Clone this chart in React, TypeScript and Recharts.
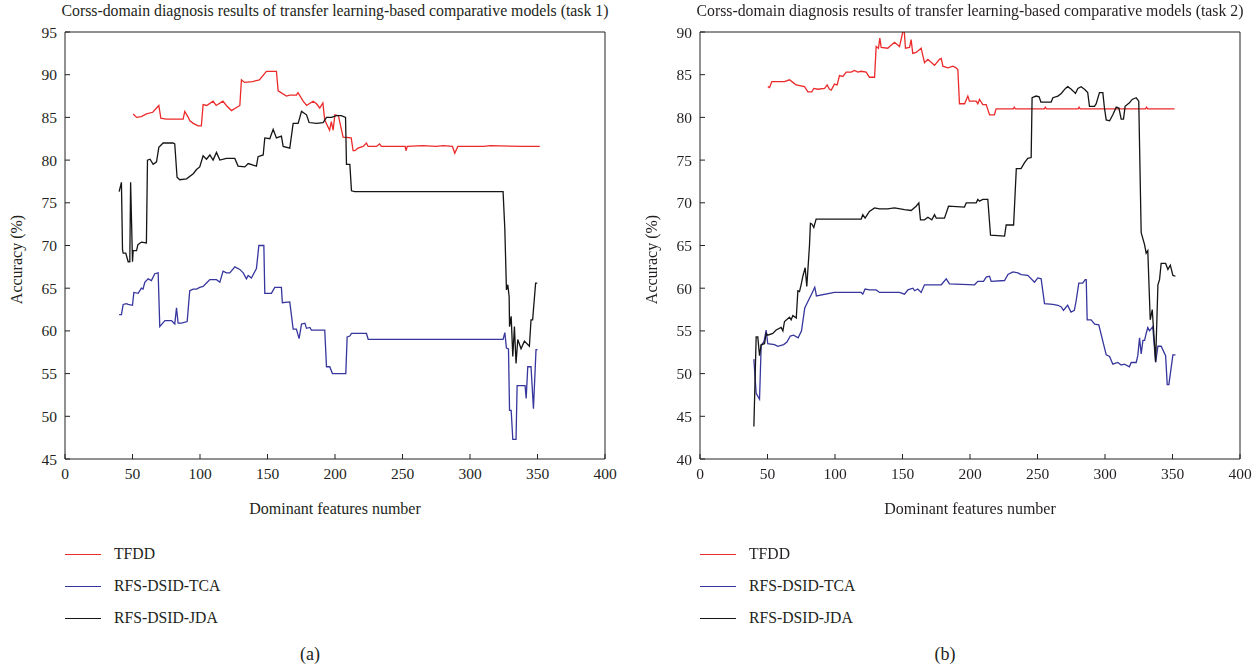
import React from "react";
import { LineChart, Line, XAxis, YAxis } from "recharts";

type Pt = [number, number];

const xTicks = [0, 50, 100, 150, 200, 250, 300, 350, 400];
const yTicksA = [45, 50, 55, 60, 65, 70, 75, 80, 85, 90, 95];
const yTicksB = [40, 45, 50, 55, 60, 65, 70, 75, 80, 85, 90];

const seriesNames = ["TFDD", "RFS-DSID-TCA", "RFS-DSID-JDA"];
const seriesColors = ["#ec2a2a", "#36369e", "#151515"];

// task 1
const tfddA: Pt[] = [
  [50.5, 85.4], [53, 85.0], [56.6, 85.1], [60.3, 85.4], [65, 85.6], [69.5, 86.4], [71, 84.9],
  [75, 84.8], [80, 84.8], [87.5, 84.8], [88.7, 85.7], [91, 85.1], [92.5, 84.6], [95, 84.3],
  [98.6, 84.0], [101, 84.0], [102.3, 86.5], [105, 86.4], [109.7, 86.9], [112, 86.4], [117, 86.9],
  [119.5, 86.4], [123.3, 85.8], [129.5, 86.4], [130.7, 89.4], [133, 89.1], [139, 89.2], [144, 89.4],
  [149.2, 90.4], [156.6, 90.4], [157.9, 88.1], [164, 87.5], [166.5, 87.6], [171.4, 87.6],
  [172.6, 87.9], [176.4, 86.9], [179, 86.4], [183.8, 86.9], [186.3, 86.6], [188.7, 86.1],
  [191, 86.7], [192.4, 84.7], [196, 83.5], [197.3, 84.5], [198.6, 83.5], [199.9, 85.3],
  [202.5, 85.2], [206, 82.7], [212, 82.6], [213.4, 81.1], [214.7, 81.1], [217, 81.4], [220.8, 81.6],
  [223.3, 82.0], [224.5, 81.6], [230.7, 81.6], [233, 81.9], [234.3, 81.6], [252, 81.6],
  [252.6, 81.1], [253.5, 81.6], [265, 81.7], [275, 81.6], [280, 81.7], [287, 81.6], [288.7, 80.8],
  [291, 81.6], [310, 81.6], [315, 81.7], [339.3, 81.6], [351.7, 81.6],
];
const tcaA: Pt[] = [
  [40.1, 61.9], [41.8, 61.9], [43.1, 63.1], [45.5, 63.2], [46.8, 63.1], [50, 63.0], [51, 64.5],
  [54.2, 64.4], [56.6, 65.0], [57.8, 64.9], [59.1, 65.7], [61.6, 66.1], [64, 65.9], [66.5, 66.7],
  [69, 66.8], [70.2, 60.5], [74, 61.2], [78.9, 61.2], [81.3, 60.8], [82.6, 62.7], [83.8, 60.9],
  [86.3, 60.9], [90.5, 61.1], [92.4, 64.7], [94.9, 64.9], [97.4, 64.9], [99.8, 65.1],
  [102.3, 65.2], [104.8, 65.6], [107.3, 66.0], [112.2, 66.0], [114.7, 65.7], [117.1, 67.0],
  [119.6, 66.8], [122.1, 66.8], [125.8, 67.5], [129.5, 67.2], [132, 66.8], [134.4, 66.1],
  [135.7, 66.5], [138.1, 66.2], [141.8, 67.3], [143.6, 70.0], [147.3, 70.0], [148, 64.4],
  [152.9, 64.4], [155.4, 65.1], [160.3, 65.1], [161, 63.3], [166.5, 63.4], [169, 60.2],
  [171.4, 60.2], [173.4, 59.1], [175.2, 60.8], [177.7, 60.9], [178.9, 60.3], [181.4, 60.4],
  [182.5, 60.1], [192.4, 60.1], [193.7, 55.8], [196.1, 55.8], [198.1, 55.0], [208, 55.0],
  [209, 59.3], [211, 59.4], [212.2, 59.7], [223.3, 59.7], [224.6, 59.0], [324.5, 59.0],
  [325.8, 59.8], [327, 58.0], [328.5, 57.9], [329.3, 50.7], [330.5, 50.7], [331.7, 47.3],
  [334.1, 47.3], [334.9, 53.6], [340.8, 53.6], [341.6, 52.1], [342.8, 55.8], [345.2, 55.8],
  [347, 50.9], [348.9, 57.8], [350, 57.8],
];
const jdaA: Pt[] = [
  [40.1, 76.3], [41.8, 77.4], [42.6, 69.5], [43.1, 69.1], [45, 69.1], [46.8, 68.1], [48, 68.1],
  [48.6, 77.4], [50, 68.1], [50.5, 69.4], [53, 69.4], [54, 70.1], [56.6, 70.4], [60.3, 70.3],
  [61.1, 80.0], [63, 80.1], [65.3, 79.5], [67.8, 79.8], [69.5, 81.5], [72.7, 82.0], [80, 82.0],
  [81.3, 81.9], [83, 78.0], [85, 77.7], [90, 77.8], [95, 78.4], [97.4, 78.9], [99.8, 79.2],
  [102.3, 80.5], [104.8, 80.1], [107.3, 80.6], [109.7, 80.0], [112.2, 80.9], [114.7, 80.0],
  [119.6, 80.2], [125.8, 80.2], [128.2, 79.3], [133.2, 79.2], [135.7, 79.6], [139.4, 79.4],
  [141.8, 79.3], [143, 80.4], [146.8, 80.6], [148, 82.6], [151.7, 82.5], [154.2, 83.6],
  [156.6, 82.6], [160.3, 82.8], [161.6, 81.6], [166.5, 81.4], [169, 84.3], [172.7, 84.3],
  [175.2, 85.7], [178.9, 85.3], [180.8, 84.4], [186.3, 84.3], [191.2, 84.4], [193.7, 85.0],
  [197.4, 85.0], [201, 85.2], [204.7, 85.2], [207.8, 85.0], [208.5, 79.5], [211, 79.5],
  [212.2, 76.4], [214.6, 76.3], [324.5, 76.3], [325.8, 71.9], [327, 64.8], [328, 65.4],
  [329, 64.0], [329.3, 60.5], [330.5, 61.7], [331.7, 57.0], [332.9, 60.5], [334.1, 56.2],
  [335.4, 59.0], [337.8, 57.9], [340.3, 58.8], [344, 58.2], [345.2, 61.3], [346.4, 61.3],
  [348.6, 65.6], [349.8, 65.6],
];

// task 2
const tfddB: Pt[] = [
  [50.2, 83.6], [51.5, 83.5], [53.2, 84.2], [57.6, 84.2], [62.6, 84.2], [66.3, 84.4], [68.8, 84.1],
  [71.2, 83.8], [77.4, 83.6], [79.9, 83.0], [82.8, 83.0], [84.3, 83.4], [87.3, 83.3], [92.3, 83.4],
  [94.2, 83.8], [95.9, 83.3], [97.2, 83.2], [99.6, 83.9], [101.6, 83.8], [103.3, 84.9],
  [105.8, 84.8], [108.3, 85.3], [112, 85.3], [114.4, 85.5], [116.9, 85.3], [119.4, 85.4],
  [123.1, 85.3], [125.5, 84.7], [129.3, 84.7], [130.5, 88.3], [132.2, 88.1], [133.2, 89.3],
  [134.2, 88.2], [139.1, 88.1], [144.1, 88.8], [147.8, 88.3], [150.2, 90.0], [151.2, 90.3],
  [152.2, 88.1], [155.2, 88.2], [156.4, 89.1], [157.6, 87.5], [160.1, 87.6], [163.8, 88.1],
  [166.3, 86.4], [168.8, 86.8], [173.7, 86.1], [177.4, 86.8], [178.7, 86.9], [179.9, 86.0],
  [183.6, 85.8], [187.3, 86.0], [189.7, 85.8], [191, 85.6], [192.2, 81.6], [196, 81.6],
  [198.4, 82.5], [199.6, 81.9], [204.6, 81.9], [205.8, 81.6], [207, 82.1], [209.5, 81.5],
  [212, 81.5], [214.5, 80.3], [218.1, 80.3], [219.3, 81.0], [232, 81.0], [232.8, 81.2],
  [233.6, 81.0], [255, 81.0], [255.8, 81.2], [256.6, 81.0], [280, 81.0], [280.8, 81.2],
  [281.6, 81.0], [330, 81.0], [330.8, 81.2], [331.6, 81.0], [351.5, 81.0],
];
const tcaB: Pt[] = [
  [39.9, 51.7], [41.6, 47.7], [44.1, 47.0], [45.3, 53.2], [47.5, 53.8], [49, 55.1], [50.2, 53.5],
  [55.2, 53.4], [57.6, 53.2], [62, 53.4], [64.4, 53.7], [66.9, 54.4], [69.3, 54.5], [72.7, 54.2],
  [75.2, 55.0], [77.6, 57.7], [80.1, 58.5], [82.6, 59.3], [85, 60.1], [85.8, 59.5], [86.2, 59.1],
  [99.6, 59.5], [119.4, 59.5], [120.6, 59.3], [122.3, 59.9], [125.5, 59.8], [130.5, 59.8],
  [133, 59.5], [147.8, 59.5], [151.5, 59.3], [154, 59.8], [157.7, 60.0], [159, 59.7],
  [161.3, 59.9], [163.8, 59.5], [166.3, 60.4], [178.7, 60.4], [182.4, 61.1], [184.8, 60.5],
  [203.4, 60.4], [205.8, 60.8], [210, 60.8], [212, 61.3], [214.5, 61.4], [215.7, 60.8],
  [225.6, 60.9], [228.1, 61.6], [231.8, 61.9], [235.5, 61.8], [237.9, 61.6], [242.8, 61.5],
  [247.8, 60.7], [250.2, 61.2], [252.7, 61.1], [255.2, 58.2], [261.4, 58.1], [265.1, 58.0],
  [267.6, 57.8], [269.2, 57.4], [272.3, 58.0], [274.8, 57.2], [277.3, 57.4], [278.6, 58.5],
  [280.6, 60.6], [283.5, 60.6], [285.3, 61.0], [286.1, 61.0], [286.8, 56.3], [289.7, 56.3],
  [292.4, 55.8], [295.4, 55.7], [300.9, 52.2], [303.4, 52.0], [305.8, 51.1], [309.5, 51.3],
  [312, 51.0], [314.4, 51.1], [318.1, 50.8], [319.4, 51.3], [323.1, 51.3], [324.3, 52.1],
  [325.6, 54.2], [326.8, 52.3], [328.1, 53.9], [329.3, 53.9], [330.5, 54.7], [331.7, 55.4],
  [333, 55.0], [335.4, 55.5], [337.5, 51.3], [339.2, 53.2], [341.6, 53.2], [344.9, 52.1],
  [346.1, 48.7], [347.3, 48.7], [350.3, 52.2], [352.2, 52.2],
];
const jdaB: Pt[] = [
  [39.9, 43.8], [41.6, 54.3], [42.8, 54.3], [44.1, 52.1], [45.3, 53.4], [47.8, 53.5], [49, 54.7],
  [50.2, 54.5], [53.9, 54.7], [56.4, 55.1], [60.1, 55.4], [61.4, 55.0], [62.6, 56.1], [66.3, 56.6],
  [67.5, 56.3], [68.8, 56.8], [71.3, 56.5], [72.5, 59.7], [73.7, 59.6], [74.9, 60.4], [76.2, 61.4],
  [77.9, 62.4], [79.1, 60.2], [81.1, 65.0], [81.8, 67.6], [83, 67.5], [84.3, 67.1], [86, 68.1],
  [119.4, 68.1], [120.6, 68.6], [122.3, 68.2], [124.3, 68.7], [125.5, 69.0], [129.3, 69.4],
  [133, 69.3], [139.1, 69.3], [144.1, 69.4], [151.5, 69.2], [156.4, 69.1], [160.1, 69.6],
  [162.1, 70.0], [163.3, 68.0], [166.3, 68.0], [168.8, 68.3], [171.7, 68.0], [173.7, 68.6],
  [175, 68.2], [181.1, 68.2], [184.1, 69.6], [195.9, 69.5], [197.2, 70.0], [204.6, 70.0],
  [205.8, 70.4], [207, 70.2], [209.5, 70.4], [213.2, 70.4], [215.2, 66.2], [225.6, 66.1],
  [226.8, 67.4], [232.3, 67.4], [234.3, 74.0], [237.8, 74.0], [240.4, 74.7], [242.8, 75.2],
  [245.3, 75.3], [246, 82.3], [249, 82.5], [251.2, 82.4], [252.5, 81.8], [260.1, 81.8],
  [261.4, 82.3], [265.1, 82.5], [267.6, 82.8], [270.7, 83.4], [272.4, 83.6], [275, 83.3],
  [276.3, 83.1], [278.1, 82.8], [279.9, 83.4], [282.3, 83.6], [284.8, 83.3], [287.2, 82.9],
  [288.5, 81.3], [292.2, 81.3], [293.5, 81.6], [295.9, 82.9], [298.4, 82.9], [299.6, 81.1],
  [300.9, 79.7], [303.4, 79.6], [305.8, 80.3], [308.3, 81.2], [310.3, 81.1], [312, 79.8],
  [313.7, 79.8], [314.9, 81.3], [318.1, 81.7], [320.1, 82.1], [323.1, 82.3], [325, 81.9],
  [326.8, 66.5], [329.3, 65.1], [330.5, 64.1], [331.7, 64.4], [333.5, 56.3], [335, 57.5],
  [337.5, 51.4], [339.2, 60.4], [340.4, 61.0], [341.6, 62.9], [344.9, 62.9], [346.6, 62.2],
  [348.4, 62.7], [350.3, 61.5], [352.2, 61.4],
];

const FONT = '"Liberation Serif", "DejaVu Serif", serif';
const TXT = "#231f20";

const toRows = (pts: Pt[]) => pts.map(([x, y]) => ({ x, y }));

function YLabel(props: any) {
  const vb = props.viewBox;
  const cx = 18;
  const cy = vb.y + vb.height / 2 + 14;
  return (
    <text x={cx} y={cy} transform={`rotate(-90, ${cx}, ${cy})`} textAnchor="middle"
      dominantBaseline="middle" fontFamily={FONT} fontSize={16} fill={TXT}>
      Accuracy (%)
    </text>
  );
}

function XLabel(props: any) {
  const vb = props.viewBox;
  return (
    <text x={vb.x + vb.width / 2} y={514} textAnchor="middle" fontFamily={FONT}
      fontSize={16} fill={TXT}>
      Dominant features number
    </text>
  );
}

function Panel({ left, title, tag, yTicks, series }: {
  left: number; title: string; tag: string; yTicks: number[]; series: Pt[][];
}) {
  const yDomain: [number, number] = [yTicks[0], yTicks[yTicks.length - 1]];
  const tickStyle = { fontFamily: FONT, fontSize: 15.5, fill: TXT };
  return (
    <div style={{ position: "absolute", left, top: 0, width: 630, height: 669 }}>
      <div style={{ position: "absolute", left: 35, width: 600, top: 2, textAlign: "center",
        fontFamily: FONT, fontSize: 15.8, color: TXT, whiteSpace: "nowrap" }}>
        {title}
      </div>
      <LineChart width={630} height={560} margin={{ top: 30, right: 20, bottom: 41, left: 25 }}>
        <XAxis xAxisId="b" type="number" dataKey="x" domain={[0, 400]} ticks={xTicks}
          orientation="bottom" height={60} tickSize={-5} tickMargin={14}
          stroke="#222" tick={tickStyle} allowDataOverflow label={<XLabel />} />
        <XAxis xAxisId="t" type="number" dataKey="x" domain={[0, 400]} ticks={xTicks}
          orientation="top" height={2} tickSize={-5} tick={false} stroke="#222" allowDataOverflow />
        <YAxis yAxisId="l" type="number" dataKey="y" domain={yDomain} ticks={yTicks}
          orientation="left" width={40} tickSize={-5} tickMargin={13} stroke="#222"
          tick={tickStyle} allowDataOverflow label={<YLabel />} />
        <YAxis yAxisId="r" type="number" dataKey="y" domain={yDomain} ticks={yTicks}
          orientation="right" width={5} tickSize={-5} tick={false} stroke="#222" allowDataOverflow />
        {series.map((pts, i) => (
          <Line key={seriesNames[i]} xAxisId="b" yAxisId="l" data={toRows(pts)} dataKey="y"
            type="linear" stroke={seriesColors[i]} strokeWidth={1.3} dot={false}
            isAnimationActive={false} name={seriesNames[i]} />
        ))}
        {series.map((pts, i) => (
          <Line key={"frame" + i} xAxisId="t" yAxisId="r" data={toRows(pts)} dataKey="y"
            stroke="none" dot={false} isAnimationActive={false} legendType="none" />
        ))}
      </LineChart>
      {seriesNames.map((n, i) => (
        <div key={n} style={{ position: "absolute", left: 65, top: 543 + i * 32, height: 22,
          display: "flex", alignItems: "center", fontFamily: FONT, fontSize: 15.7, color: TXT }}>
          <span style={{ display: "inline-block", width: 36, height: 0,
            borderTop: `1.5px solid ${seriesColors[i]}`, marginRight: 13 }} />
          {n}
        </div>
      ))}
      <div style={{ position: "absolute", left: 0, width: 620, top: 644, textAlign: "center",
        fontFamily: FONT, fontSize: 18, color: TXT }}>
        {tag}
      </div>
    </div>
  );
}

export default function App() {
  return (
    <div style={{ position: "fixed", left: 0, top: 0, width: 1260, height: 669, background: "#fff" }}>
      <Panel left={0} tag="(a)" yTicks={yTicksA} series={[tfddA, tcaA, jdaA]}
        title="Corss-domain diagnosis results of transfer learning-based comparative models (task 1)" />
      <Panel left={635} tag="(b)" yTicks={yTicksB} series={[tfddB, tcaB, jdaB]}
        title="Corss-domain diagnosis results of transfer learning-based comparative models (task 2)" />
    </div>
  );
}
